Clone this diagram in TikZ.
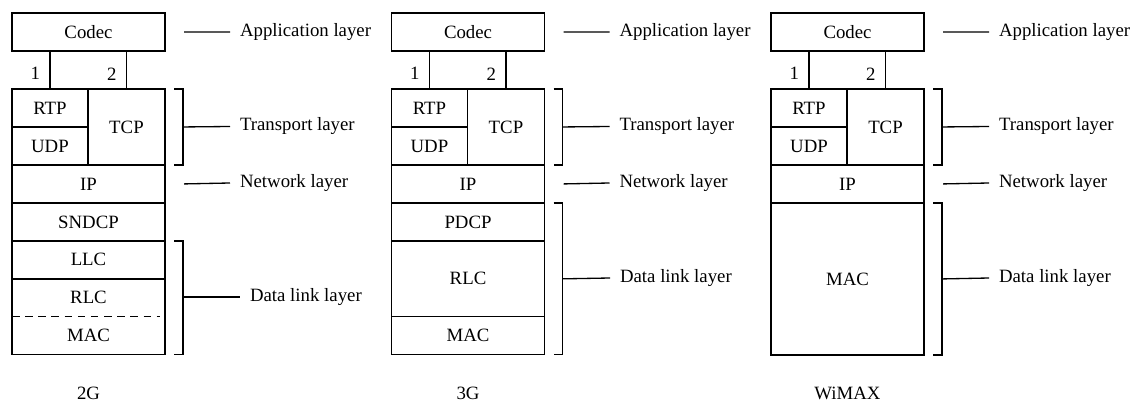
\documentclass[tikz,border=0pt]{standalone}
\usepackage{fontspec}
\setmainfont{Liberation Serif}
\usepackage{tikz}
\usetikzlibrary{
	positioning
}

\tikzset{
	box/.style={draw,inner sep=0pt,outer sep=0pt,minimum width=81.4pt,minimum height=20.2pt},
	halfbox/.style={box,minimum width=40.4pt},
	tcpbox/.style={box,minimum width=41pt,minimum height=40.4pt},
	slot/.style={box,draw=none},
	tag/.style={anchor=west,inner sep=5pt},
	num/.style={left,inner sep=5pt,pos=0.4}
}

\begin{document}
\begin{tikzpicture}[x=0.532pt,y=-0.532pt,line width=0.7pt,font=\fontsize{10}{12}\selectfont]
	\useasboundingbox (0,0) rectangle (1133,405);

	\foreach \s/\x/\g in {a/12/2G, b/391.5/3G, c/771/WiMAX} {
		\node[box,anchor=north west]     (codec\s) at (\x,13)           {Codec};
		\node[halfbox,anchor=north west] (rtp\s)   at (\x,89)           {RTP};
		\node[halfbox,below=0pt of rtp\s]                 (udp\s)       {UDP};
		\node[tcpbox,anchor=north west]  (tcp\s)   at (rtp\s.north east) {TCP};
		\node[box,anchor=north west]     (ip\s)    at (udp\s.south west) {IP};
		\draw (rtp\s.north) -- node[num]{1} (rtp\s.north |- codec\s.south);
		\draw (tcp\s.north) -- node[num]{2} (tcp\s.north |- codec\s.south);

		\node[tag] (app\s) at (\x+218,32)    {Application layer};
		\node[tag] (trn\s) at (\x+218,126.5) {Transport layer};
		\node[tag] (net\s) at (\x+218,183)   {Network layer};
		\draw ([shift={(19,0)}]codec\s.east) -- (app\s.west);
		\draw ([shift={(19,0)}]ip\s.east)    -- (net\s.west);
		\coordinate (tb\s) at ([shift={(18,0)}]tcp\s.east);
		\draw ([shift={(9,0)}]tcp\s.north east) -| ([shift={(18,0)}]tcp\s.south east) -- ++(-9,0);
		\draw (tb\s) -- (trn\s.west);

		\node (gen\s) at (\x+76.5,393) {\g};
	}

	% 2G
	\node[box,below=0pt of ipa]    (sndcp) {SNDCP};
	\node[box,below=0pt of sndcp]  (llc)   {LLC};
	\node[slot,below=0pt of llc]   (rlca)  {RLC};
	\node[slot,below=0pt of rlca]  (maca)  {MAC};
	\draw (rlca.north west) rectangle (maca.south east);
	\draw[dash pattern=on 4pt off 3pt] (rlca.south west) -- ([shift={(-5,0)}]rlca.south east);

	% 3G
	\node[box,below=0pt of ipb]                     (pdcp) {PDCP};
	\node[box,minimum height=40.4pt,below=0pt of pdcp] (rlcb) {RLC};
	\node[box,below=0pt of rlcb]                    (macb) {MAC};

	% WiMAX
	\node[box,minimum height=80.9pt,below=0pt of ipc] (macc) {MAC};

	\node[tag] (dlla) at (240,297)   {Data link layer};
	\node[tag] (dllb) at (610,278)   {Data link layer};
	\node[tag] (dllc) at (989,278)   {Data link layer};

	\draw ([shift={(9,0)}]llc.north east)  -| ([shift={(18,0)}]maca.south east) -- ++(-9,0);
	\draw ([shift={(9,0)}]pdcp.north east) -| ([shift={(18,0)}]macb.south east) -- ++(-9,0);
	\draw ([shift={(9,0)}]macc.north east) -| ([shift={(18,0)}]macc.south east) -- ++(-9,0);
	\coordinate (dba) at (183,297);
	\coordinate (dbb) at ([shift={(18,0)}]rlcb.east);
	\coordinate (dbc) at ([shift={(18,0)}]macc.east);
	\draw (dba) -- (dlla.west);
	\draw (dbb) -- (dllb.west);
	\draw (dbc) -- (dllc.west);
\end{tikzpicture}
\end{document}
